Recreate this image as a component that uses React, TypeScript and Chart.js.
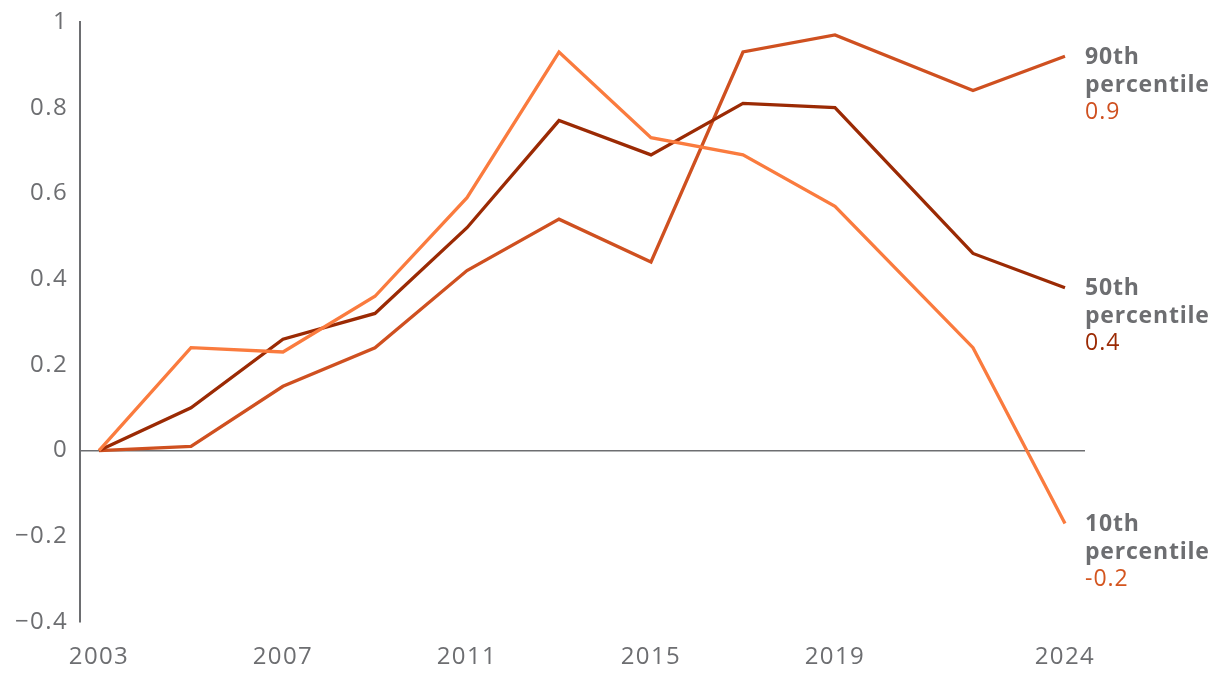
import React, { useEffect, useRef } from "react";
import { Chart, registerables } from "chart.js";

Chart.register(...registerables);

const years = [2003, 2005, 2007, 2009, 2011, 2013, 2015, 2017, 2019, 2022, 2024];
const p10 = [0, 0.24, 0.23, 0.36, 0.59, 0.93, 0.73, 0.69, 0.57, 0.24, -0.17];
const p50 = [0, 0.1, 0.26, 0.32, 0.52, 0.77, 0.69, 0.81, 0.8, 0.46, 0.38];
const p90 = [0, 0.01, 0.15, 0.24, 0.42, 0.54, 0.44, 0.93, 0.97, 0.84, 0.92];
const xTickYears = [2003, 2007, 2011, 2015, 2019, 2024];
const endLabels = [
  { name: "90th", sub: "percentile", value: "0.9", series: 2, valueColor: "#CF5020" },
  { name: "50th", sub: "percentile", value: "0.4", series: 1, valueColor: "#9B2A04" },
  { name: "10th", sub: "percentile", value: "-0.2", series: 0, valueColor: "#D4551F" },
];

const GRAY = "#6D6E71";
const FONT = "'Open Sans', Lato, sans-serif";

const spacingPlugin = {
  id: "spacing",
  beforeLayout(chart: any) {
    chart.ctx.letterSpacing = "1.4px";
  },
  beforeDraw(chart: any) {
    chart.ctx.letterSpacing = "1.4px";
  },
};

const endLabelPlugin = {
  id: "endLabels",
  afterDatasetsDraw(chart: any) {
    const ctx = chart.ctx;
    ctx.save();
    ctx.textAlign = "left";
    ctx.textBaseline = "middle";
    endLabels.forEach((l) => {
      const meta = chart.getDatasetMeta(l.series);
      const pt = meta.data[meta.data.length - 1];
      const x = 1085;
      const y = pt.y;
      ctx.fillStyle = GRAY;
      ctx.letterSpacing = "0.8px";
      ctx.font = `bold 23px ${FONT}`;
      ctx.fillText(l.name, x, y + 1);
      ctx.fillText(l.sub, x, y + 29);
      ctx.fillStyle = l.valueColor;
      ctx.letterSpacing = "1px";
      ctx.font = `23px ${FONT}`;
      ctx.fillText(l.value, x, y + 56);
    });
    ctx.restore();
  },
};

export default function App() {
  const ref = useRef<HTMLCanvasElement>(null);
  useEffect(() => {
    if (!ref.current) return;
    const mk = (data: number[], color: string) => ({
      data: years.map((y, i) => ({ x: y, y: data[i] })),
      borderColor: color,
      backgroundColor: color,
      borderWidth: 3.3,
      pointRadius: 0,
      pointHoverRadius: 0,
      tension: 0,
      fill: false,
    });
    const chart = new Chart(ref.current, {
      type: "line",
      data: {
        datasets: [mk(p10, "#FA7B3E"), mk(p50, "#9B2A04"), mk(p90, "#CF5020")],
      },
      options: {
        animation: false,
        responsive: false,
        maintainAspectRatio: false,
        layout: { padding: { top: 22, right: 135, left: 0, bottom: 0 } },
        plugins: { legend: { display: false }, tooltip: { enabled: false } },
        scales: {
          x: {
            type: "linear",
            min: 2002.587,
            max: 2024.435,
            afterBuildTicks: (s: any) => {
              s.ticks = xTickYears.map((v) => ({ value: v }));
            },
            afterFit: (s: any) => {
              s.height = 54;
              s.paddingLeft = 0;
              s.paddingRight = 0;
            },
            grid: { display: false },
            border: { display: false },
            ticks: {
              color: GRAY,
              font: { family: FONT, size: 24 },
              padding: 13,
              maxRotation: 0,
              autoSkip: false,
              callback: (v: any) => String(v),
            },
          },
          y: {
            min: -0.4,
            max: 1,
            afterFit: (s: any) => {
              s.width = 80;
              s.paddingTop = 0;
              s.paddingBottom = 0;
            },
            border: { display: true, color: GRAY, width: 2 },
            grid: {
              drawTicks: false,
              color: (c: any) => (c.tick && Math.abs(c.tick.value) < 1e-9 ? GRAY : "rgba(0,0,0,0)"),
              lineWidth: 1.5,
            },
            ticks: {
              stepSize: 0.2,
              color: GRAY,
              font: { family: FONT, size: 24 },
              padding: 12,
              callback: (v: any) => {
                const r = Math.round(Number(v) * 10) / 10;
                return r < 0 ? "\u2212" + String(Math.abs(r)) : String(r);
              },
            },
          },
        },
      },
      plugins: [spacingPlugin, endLabelPlugin],
    });
    return () => chart.destroy();
  }, []);
  return (
    <div style={{ position: "fixed", left: 0, top: 0, width: 1220, height: 676, background: "#fff" }}>
      <canvas ref={ref} width={1220} height={676} style={{ width: 1220, height: 676 }} />
    </div>
  );
}
